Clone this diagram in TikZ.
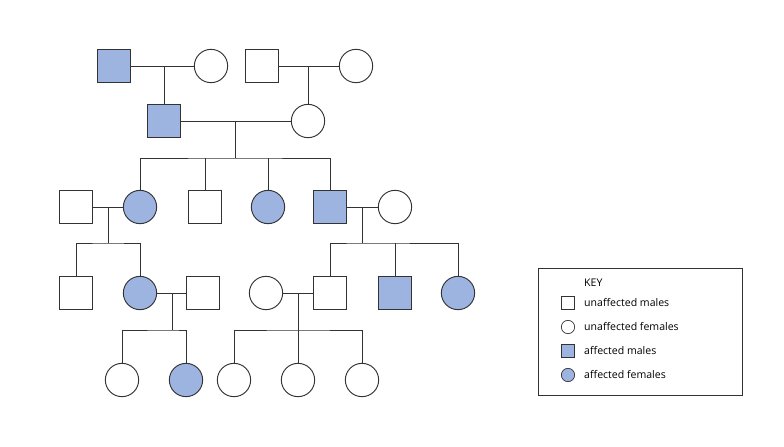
\documentclass[tikz,border=0pt]{standalone}
\usepackage{fontspec}
\setmainfont{Open Sans}
\begin{document}
\begin{tikzpicture}[x=0.03cm,y=-0.03cm,
 m/.style={draw=black!80,line width=0.8pt,minimum size=1.0cm,inner sep=0pt,fill=white},
 f/.style={m,circle},
 aff/.style={fill=aff},
 ln/.style={draw=black!80,line width=0.8pt},
 ks/.style={draw=black!80,line width=0.6pt,minimum size=0.4cm,inner sep=0pt,fill=white},
 kt/.style={anchor=west,font=\small,inner sep=0pt}]
\definecolor{aff}{HTML}{9DB3E0}
\useasboundingbox (0,0) rectangle (784,446);
\coordinate (c1) at (164,66); \coordinate (c2) at (308,66);
\coordinate (c3) at (235,121);\coordinate (c3b) at (235,158);
\coordinate (c4) at (108,207); \coordinate (c4b) at (108,243);
\coordinate (c5) at (362,207); \coordinate (c5b) at (362,243);
\coordinate (c6) at (172,293); \coordinate (c6b) at (172,330);
\coordinate (c7) at (298,293); \coordinate (c7b) at (298,330);
\path[ln] (114,66) -- (211,66) (262,66) -- (356,66);
\path[ln] (c1) -- (164,121) (c2) -- (308,121);
\path[ln] (164,121) -- (308,121) (c3) -- (c3b);
\path[ln] (140,207) |- (c3b) -| (330,207) (205,158) -- (205,207) (268,158) -- (268,207);
\path[ln] (76,207) -- (140,207) (c4) -- (c4b) (76,293) |- (c4b) -| (140,293);
\path[ln] (330,207) -- (395,207) (c5) -- (c5b) (330,293) |- (c5b) -| (458,293) (395,243) -- (395,293);
\path[ln] (140,293) -- (203,293) (c6) -- (c6b) (122,380) |- (c6b) -| (186,380);
\path[ln] (266,293) -- (330,293) (c7) -- (c7b) (234,380) |- (c7b) -| (362,380) (298,330) -- (298,380);
\node[m,aff] (a1) at (114,66) {};
\node[f] (a2) at (211,66) {};
\node[m] (a3) at (262,66) {};
\node[f] (a4) at (356,66) {};
\node[m,aff] (b1) at (164,121) {};
\node[f] (b2) at (308,121) {};
\node[m] (d0) at (76,207) {};
\node[f,aff] (d1) at (140,207) {};
\node[m] (d2) at (205,207) {};
\node[f,aff] (d3) at (268,207) {};
\node[m,aff] (d4) at (330,207) {};
\node[f] (d5) at (395,207) {};
\node[m] (e1) at (76,293) {};
\node[f,aff] (e2) at (140,293) {};
\node[m] (e3) at (203,293) {};
\node[f] (e4) at (266,293) {};
\node[m] (e5) at (330,293) {};
\node[m,aff] (e6) at (395,293) {};
\node[f,aff] (e7) at (458,293) {};
\node[f] (g1) at (122,380) {};
\node[f,aff] (g2) at (186,380) {};
\node[f] (g3) at (234,380) {};
\node[f] (g4) at (298,380) {};
\node[f] (g5) at (362,380) {};
\node[draw=black!80,line width=0.8pt,minimum width=6.12cm,minimum height=3.81cm,inner sep=0pt,anchor=north west] (key) at (538,268) {};
\node[kt] (kh) at (584,283) {KEY};
\node[ks] (k1) at (568,303) {}; \node[kt] (t1) at (584,303) {unaffected males};
\node[ks,circle] (k2) at (568,327) {}; \node[kt] (t2) at (584,327) {unaffected females};
\node[ks,aff] (k3) at (568,351) {}; \node[kt] (t3) at (584,351) {affected males};
\node[ks,circle,aff] (k4) at (568,375) {}; \node[kt] (t4) at (584,375) {affected females};
\end{tikzpicture}
\end{document}
